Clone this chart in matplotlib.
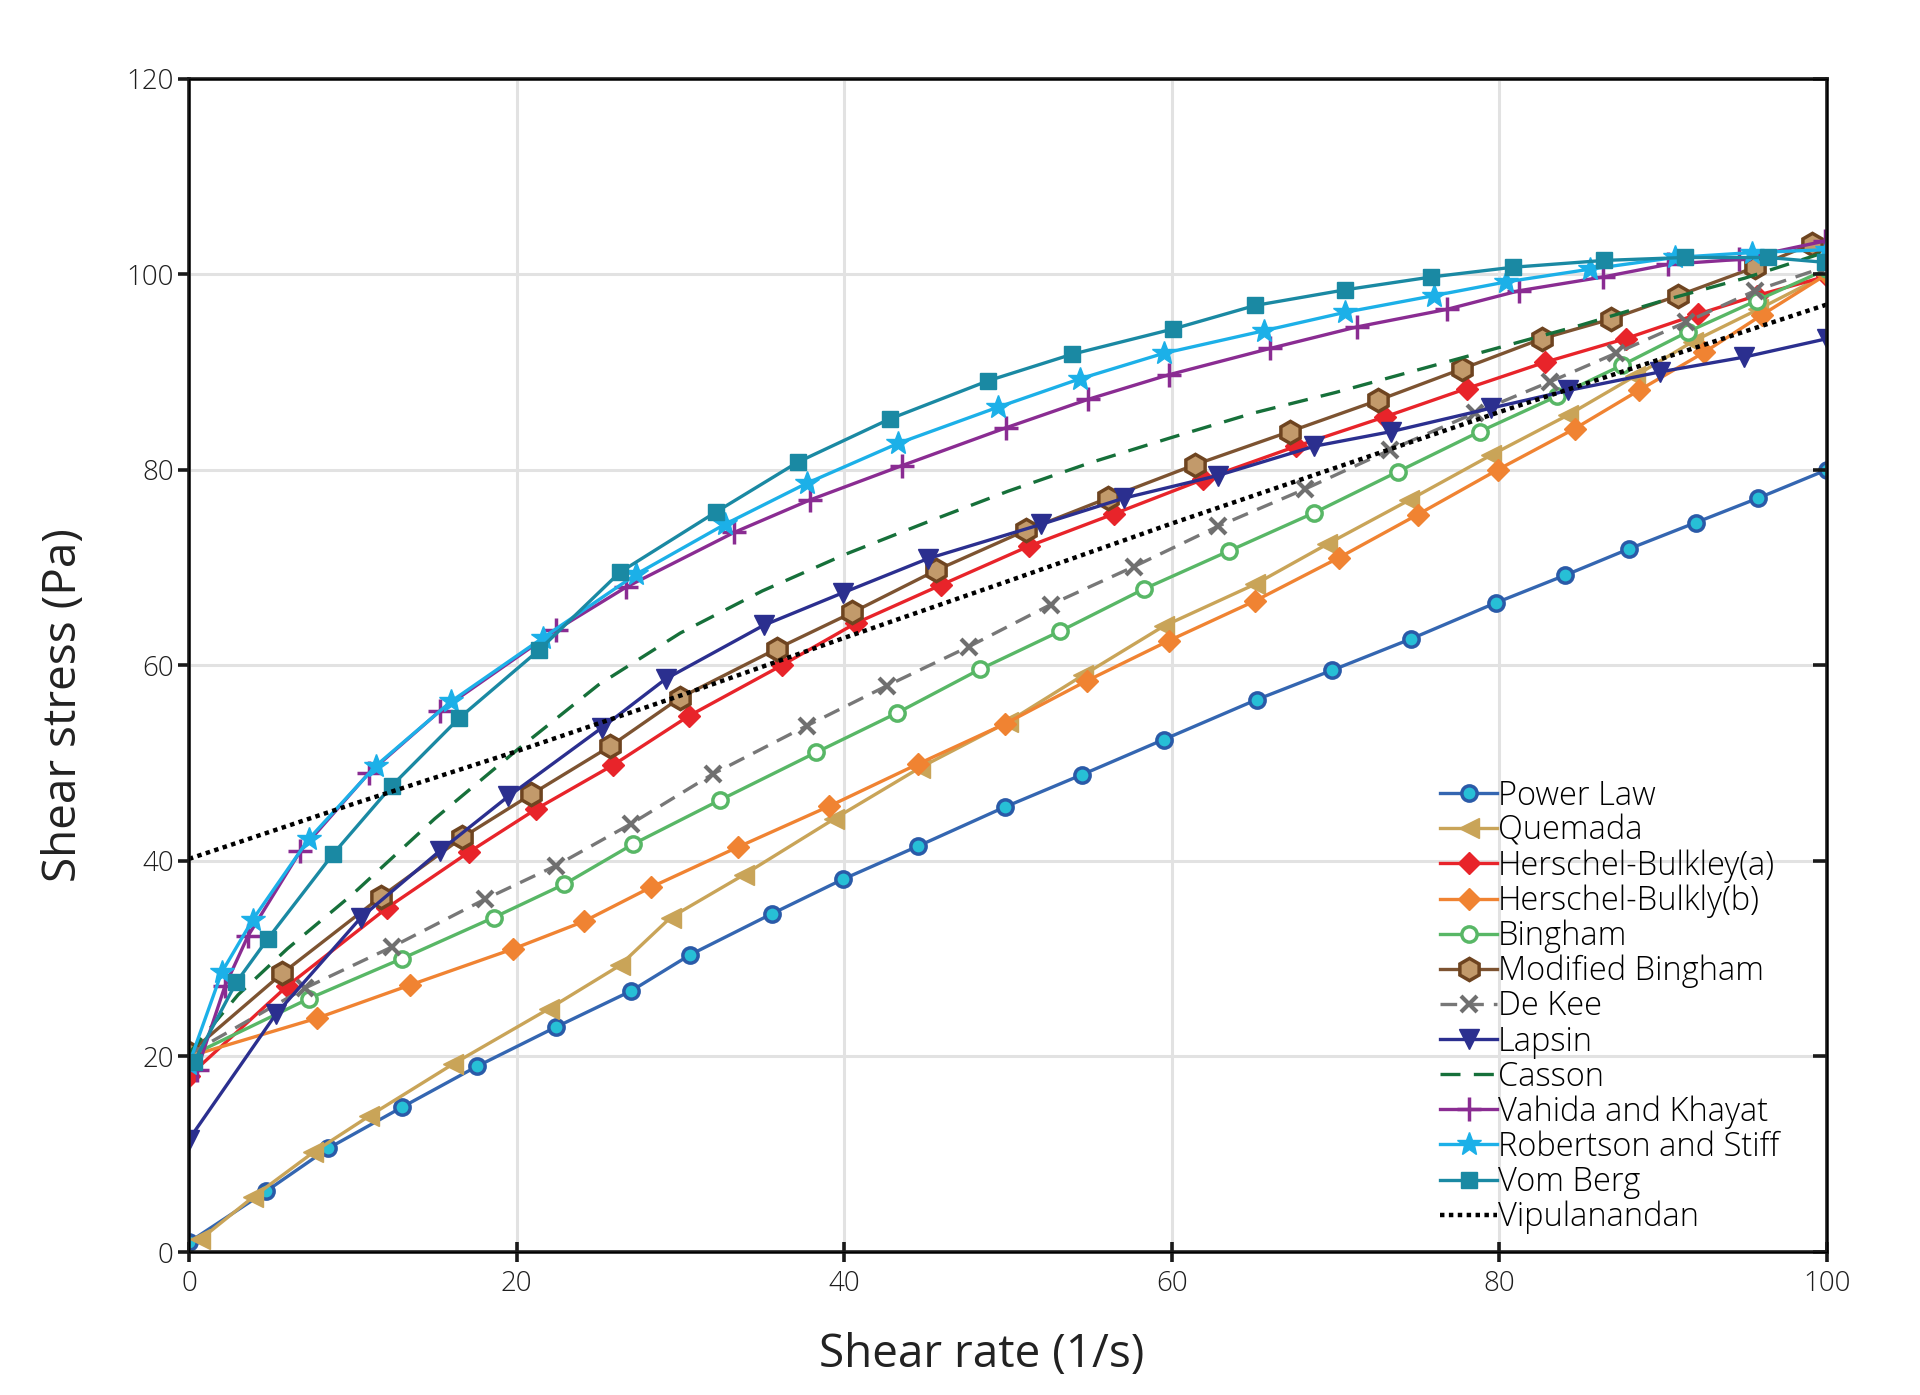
import matplotlib.pyplot as plt

# Shear rate / shear stress readings for each rheological model
pl_x = [0, 4.7, 8.5, 13.0, 17.6, 22.4, 27.0, 30.6, 35.6, 39.9, 44.5, 49.8, 54.5, 59.5, 65.2, 69.8, 74.6, 79.8, 84.0, 87.9, 92.0, 95.8, 100]
pl_y = [1.0, 6.2, 10.6, 14.8, 19.0, 23.0, 26.7, 30.4, 34.6, 38.1, 41.5, 45.5, 48.8, 52.4, 56.5, 59.5, 62.7, 66.4, 69.2, 71.9, 74.6, 77.1, 80.0]

qm_x = [0.7, 3.9, 7.6, 11.0, 16.1, 22.0, 26.3, 29.4, 33.9, 39.4, 44.6, 50.0, 54.6, 59.5, 65.1, 69.5, 74.5, 79.5, 84.2, 88.3, 91.8, 95.8, 100]
qm_y = [1.3, 5.6, 10.2, 13.9, 19.2, 24.9, 29.3, 34.2, 38.6, 44.3, 49.5, 54.2, 59.0, 64.0, 68.3, 72.4, 76.9, 81.5, 85.6, 89.6, 93.1, 96.4, 100]

hba_x = [0, 6.0, 12.1, 17.1, 21.2, 25.9, 30.5, 36.2, 40.7, 45.9, 51.3, 56.5, 61.9, 67.6, 73.0, 78.0, 82.8, 87.7, 92.1, 95.7, 100]
hba_y = [18.0, 27.2, 35.2, 40.9, 45.3, 49.8, 54.8, 60.0, 64.3, 68.2, 72.2, 75.5, 79.0, 82.4, 85.4, 88.3, 91.0, 93.4, 95.9, 97.8, 99.8]

hbb_x = [0, 7.8, 13.5, 19.8, 24.1, 28.2, 33.5, 39.1, 44.5, 49.8, 54.8, 59.8, 65.1, 70.2, 75.0, 79.9, 84.6, 88.5, 92.5, 96.0, 100]
hbb_y = [20.0, 23.9, 27.3, 31.0, 33.8, 37.3, 41.4, 45.6, 49.9, 54.0, 58.4, 62.5, 66.6, 71.0, 75.4, 80.0, 84.2, 88.1, 92.0, 95.8, 100]

bg_x = [0, 7.3, 13.0, 18.6, 22.9, 27.1, 32.4, 38.3, 43.2, 48.3, 53.2, 58.3, 63.5, 68.7, 73.8, 78.8, 83.5, 87.5, 91.5, 95.7, 100]
bg_y = [20.0, 25.9, 30.0, 34.2, 37.6, 41.7, 46.2, 51.1, 55.1, 59.6, 63.5, 67.8, 71.7, 75.6, 79.8, 83.9, 87.5, 90.7, 94.1, 97.3, 100.5]

mb_x = [0, 5.7, 11.7, 16.7, 20.9, 25.7, 30.0, 35.9, 40.5, 45.6, 51.1, 56.1, 61.4, 67.2, 72.6, 77.7, 82.6, 86.8, 90.9, 95.6, 99.1]
mb_y = [20.3, 28.5, 36.3, 42.4, 46.8, 51.7, 56.7, 61.7, 65.4, 69.7, 73.8, 77.1, 80.5, 83.9, 87.1, 90.3, 93.4, 95.4, 97.8, 100.7, 103.1]

dk_x = [0, 7.1, 12.4, 18.1, 22.4, 27.0, 32.0, 37.7, 42.6, 47.6, 52.6, 57.7, 62.8, 68.1, 73.3, 78.5, 83.1, 87.1, 91.4, 95.6, 100]
dk_y = [20.2, 27.0, 31.2, 36.1, 39.5, 43.8, 48.9, 53.8, 57.9, 61.9, 66.2, 70.1, 74.2, 78.0, 82.0, 85.8, 89.0, 91.9, 95.1, 98.3, 100.8]

lp_x = [0, 5.3, 10.5, 15.3, 19.5, 25.2, 29.1, 35.1, 39.9, 45.1, 52.0, 57.1, 62.8, 68.7, 73.4, 79.5, 84.2, 89.8, 94.9, 100]
lp_y = [11.5, 24.3, 34.2, 41.0, 46.6, 53.6, 58.6, 64.1, 67.4, 70.9, 74.4, 77.1, 79.4, 82.4, 83.9, 86.3, 88.1, 90.0, 91.5, 93.4]

cs_x = [0, 3, 6, 10, 15, 20, 25, 30, 35, 40, 45, 50, 55, 60, 65, 70, 75, 80, 85, 90, 95, 100]
cs_y = [20.3, 26.3, 31.0, 36.6, 44.3, 51.3, 58.0, 63.3, 67.6, 71.3, 74.6, 77.8, 80.7, 83.3, 85.8, 87.9, 90.2, 92.5, 94.8, 97.3, 99.6, 102.3]

vk_x = [0.5, 2.2, 3.6, 6.8, 11.0, 15.3, 22.4, 26.7, 33.3, 37.9, 43.5, 49.9, 54.9, 59.8, 66.0, 71.3, 76.8, 81.2, 86.3, 90.3, 94.6, 99.9]
vk_y = [18.6, 27.2, 32.3, 41.0, 49.0, 55.3, 63.6, 68.0, 73.6, 76.9, 80.4, 84.3, 87.2, 89.7, 92.4, 94.6, 96.4, 98.3, 99.7, 101.0, 101.5, 103.4]

rs_x = [0, 2.0, 3.9, 7.3, 11.4, 16.0, 21.6, 27.3, 32.7, 37.7, 43.3, 49.4, 54.4, 59.5, 65.6, 70.6, 76.0, 80.4, 85.5, 90.7, 95.4, 100]
rs_y = [19.2, 28.6, 34.0, 42.2, 49.7, 56.3, 62.8, 69.3, 74.4, 78.6, 82.7, 86.4, 89.3, 91.9, 94.2, 96.1, 97.8, 99.2, 100.5, 101.7, 102.2, 102.5]

vb_x = [0.3, 2.9, 4.8, 8.8, 12.4, 16.5, 21.4, 26.3, 32.2, 37.2, 42.8, 48.8, 53.9, 60.1, 65.1, 70.6, 75.8, 80.8, 86.4, 91.3, 96.4, 99.9]
vb_y = [19.4, 27.6, 32.0, 40.7, 47.7, 54.6, 61.6, 69.5, 75.7, 80.8, 85.2, 89.1, 91.8, 94.4, 96.8, 98.4, 99.7, 100.7, 101.4, 101.7, 101.7, 101.2]

vp_x = [0, 10, 20, 30, 40, 50, 60, 70, 80, 90, 100]
vp_y = [40.2, 45.8, 51.2, 56.9, 62.8, 68.6, 74.5, 80.2, 85.9, 91.4, 96.9]

plt.rcParams['font.family'] = ['Open Sans', 'DejaVu Sans']
plt.rcParams['font.weight'] = 'light'

fig = plt.figure(figsize=(19.2, 13.95), dpi=100)
ax = fig.add_axes([0.0984, 0.1025, 0.8532, 0.8412])

lw = 2.4
ax.plot(pl_x, pl_y, color='#3466b1', lw=lw, marker='o', ms=11, mfc='#27bfd6', mec='#2a5aa8', mew=2.5, label='Power Law')
ax.plot(qm_x, qm_y, color='#c9a458', lw=lw, marker='<', ms=14, mfc='#c9a458', mec='#c9a458', label='Quemada')
ax.plot(hba_x, hba_y, color='#e8242a', lw=lw, marker='D', ms=11, mfc='#e8242a', mec='#e8242a', label='Herschel-Bulkley(a)')
ax.plot(hbb_x, hbb_y, color='#f08332', lw=lw, marker='D', ms=11, mfc='#f08332', mec='#f08332', label='Herschel-Bulkly(b)')
ax.plot(bg_x, bg_y, color='#58b766', lw=lw, marker='o', ms=11, mfc='white', mec='#58b766', mew=2.5, label='Bingham')
ax.plot(mb_x, mb_y, color='#7d5331', lw=lw, marker='h', ms=16, mfc='#c29a6b', mec='#6e4420', mew=2.5, label='Modified Bingham')
ax.plot(dk_x, dk_y, color='#777777', lw=lw, ls=(0, (5, 3)), marker='x', ms=12, mew=3, mec='#6f6f6f', label='De Kee')
ax.plot(lp_x, lp_y, color='#2b2f8f', lw=lw, marker='v', ms=14, mfc='#2b2f8f', mec='#2b2f8f', label='Lapsin')
ax.plot(cs_x, cs_y, color='#16703a', lw=lw, ls=(0, (6, 4)), label='Casson')
ax.plot(vk_x, vk_y, color='#8a2c92', lw=lw, marker='+', ms=17, mew=2.5, label='Vahida and Khayat')
ax.plot(rs_x, rs_y, color='#1cb0e8', lw=lw, marker='*', ms=18, mfc='#1cb0e8', mec='#1cb0e8', label='Robertson and Stiff')
ax.plot(vb_x, vb_y, color='#1a89a3', lw=lw, marker='s', ms=11, mfc='#1a89a3', mec='#1a89a3', label='Vom Berg')
ax.plot(vp_x, vp_y, color='black', lw=3.2, ls=(0, (1, 1)), label='Vipulanandan')

ax.set_xlim(0, 100)
ax.set_ylim(0, 120)
ax.set_xticks(range(0, 101, 20))
ax.set_yticks(range(0, 121, 20))
ax.grid(True, color='#e2e2e2', lw=2.2)
ax.set_axisbelow(True)
for sp in ax.spines.values():
    sp.set_linewidth(2.6)
    sp.set_color('#1a1a1a')
ax.tick_params(labelsize=20, width=2.6, color='#1a1a1a', labelcolor='#1e1e1e')
ax.tick_params(axis='y', length=8, pad=3)
ax.tick_params(axis='x', direction='inout', length=14, pad=6)

# inward ticks on the right spine
ax2 = ax.twinx()
ax2.set_ylim(0, 120)
ax2.set_yticks(range(0, 121, 20))
ax2.tick_params(direction='in', length=10, width=2.6, labelright=False, color='#1a1a1a')

ax.set_xlabel('Shear rate (1/s)', fontsize=33, fontweight='normal', color='#222222')
ax.xaxis.set_label_coords(0.484, -0.068)
ax.set_ylabel('Shear stress (Pa)', fontsize=33, fontweight='normal', color='#222222')
ax.yaxis.set_label_coords(-0.062, 0.466)

ax.legend(loc='upper left', bbox_to_anchor=(0.764, 0.403), frameon=False, fontsize=23.5,
          handlelength=1.72, handletextpad=0.05, labelspacing=0.05, borderpad=0, borderaxespad=0)

fig.savefig('out.png', dpi=100)
